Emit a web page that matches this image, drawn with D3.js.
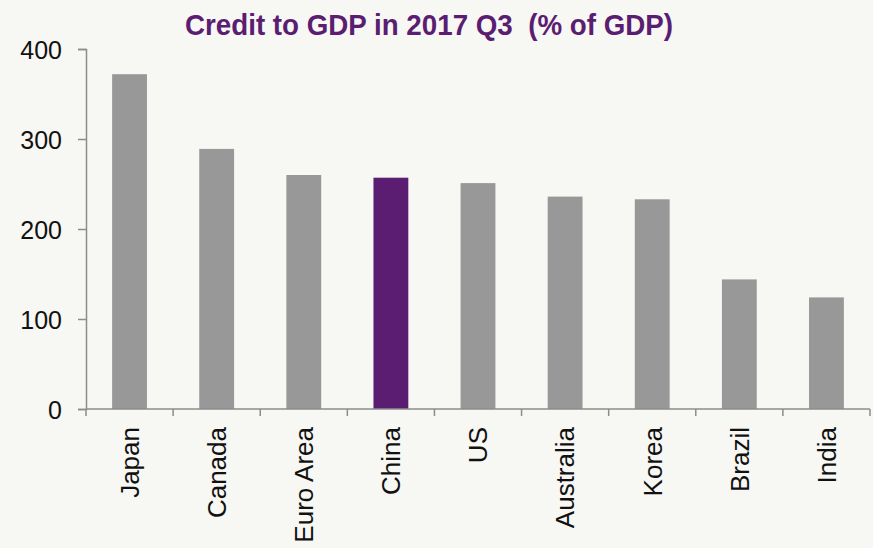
<!DOCTYPE html>
<html>
<head>
<meta charset="utf-8">
<script src="https://cdn.jsdelivr.net/npm/d3@7"></script>
<style>
  html, body { margin: 0; padding: 0; background: #f7f7f3; }
  svg { display: block; }
  text { font-family: "Liberation Sans", Arial, sans-serif; }
</style>
</head>
<body>
<svg id="chart" width="873" height="548"></svg>
<script>
// Credit to GDP, 2017 Q3 (% of GDP)
const countries = ["Japan", "Canada", "Euro Area", "China", "US", "Australia", "Korea", "Brazil", "India"];
const creditToGdp = [372, 289, 260, 257, 251, 236, 233, 144, 124];
const highlighted = ["China"];
const yTicks = [0, 100, 200, 300, 400];
const titleText = "Credit to GDP in 2017 Q3  (% of GDP)";

const svg = d3.select("#chart");
const W = 873, H = 548;
const margin = { left: 86, right: 3, top: 49, bottom: 139 };

const x = d3.scaleBand()
  .domain(countries)
  .range([margin.left, W - margin.right])
  .paddingInner(0.6)
  .paddingOuter(0.3);

const y = d3.scaleLinear()
  .domain([0, 400])
  .range([H - margin.bottom, margin.top]);

const axisColor = "#8c8c8c";

// background
svg.append("rect").attr("width", W).attr("height", H).attr("fill", "#f7f7f3");

// bars
svg.append("g").selectAll("rect")
  .data(countries)
  .join("rect")
  .attr("x", d => x(d))
  .attr("width", x.bandwidth())
  .attr("y", (d, i) => y(creditToGdp[i]))
  .attr("height", (d, i) => y(0) - y(creditToGdp[i]))
  .attr("fill", d => highlighted.includes(d) ? "#5a1d71" : "#989898");

// y axis
const yAxis = svg.append("g")
  .attr("transform", `translate(${margin.left},0)`)
  .call(d3.axisLeft(y).tickValues(yTicks).tickSize(8).tickPadding(16).tickFormat(d3.format("d")));
yAxis.select(".domain").attr("stroke", axisColor).attr("stroke-width", 1.5);
yAxis.selectAll(".tick line").attr("stroke", axisColor).attr("stroke-width", 1.5);
yAxis.selectAll(".tick text")
  .attr("fill", "#111")
  .attr("font-size", 25)
  .attr("dy", "0.36em");

// x axis: Excel-style tick marks at the category boundaries
const xStart = margin.left, xEnd = W - margin.right;
const boundaries = d3.range(countries.length + 1).map(i => xStart + i * (xEnd - xStart) / countries.length);
const xAxisG = svg.append("g");
xAxisG.append("line")
  .attr("x1", xStart).attr("x2", xEnd)
  .attr("y1", y(0)).attr("y2", y(0))
  .attr("stroke", axisColor).attr("stroke-width", 1.5);
xAxisG.selectAll("line.tk")
  .data(boundaries)
  .join("line")
  .attr("class", "tk")
  .attr("x1", d => d).attr("x2", d => d)
  .attr("y1", y(0)).attr("y2", y(0) + 7)
  .attr("stroke", axisColor).attr("stroke-width", 1.5);

// rotated category labels
xAxisG.selectAll("text")
  .data(countries)
  .join("text")
  .attr("transform", d => `translate(${x(d) + x.bandwidth() / 2},${y(0) + 18}) rotate(-90)`)
  .attr("text-anchor", "end")
  .attr("dy", "0.36em")
  .attr("font-size", 26)
  .attr("fill", "#111")
  .text(d => d);

// title (keeps the double space before the unit)
svg.append("text")
  .attr("x", 429)
  .attr("y", 35)
  .attr("text-anchor", "middle")
  .attr("font-size", 30)
  .attr("font-weight", "bold")
  .attr("fill", "#5a1d71")
  .attr("textLength", 488)
  .attr("lengthAdjust", "spacingAndGlyphs")
  .style("white-space", "pre")
  .attr("xml:space", "preserve")
  .text(titleText);
</script>
</body>
</html>
